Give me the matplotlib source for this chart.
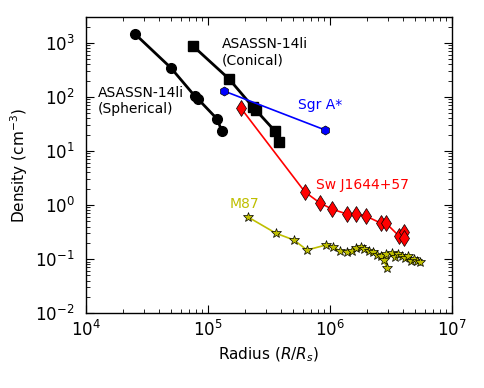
import matplotlib
matplotlib.use("Agg")
import matplotlib.pyplot as plt

plt.rcParams['axes.unicode_minus'] = False

# ASASSN-14li spherical
sph_r = [2.52e4, 4.98e4, 7.8e4, 8.28e4, 1.19e5, 1.30e5]
sph_n = [1470, 344, 104, 92, 39, 23.4]
# ASASSN-14li conical
con_r = [7.53e4, 1.49e5, 2.34e5, 2.47e5, 3.54e5, 3.82e5]
con_n = [880, 215, 65, 57, 23.4, 14.7]
# Sgr A*
sgr_r = [1.35e5, 9.1e5]
sgr_n = [129, 24.5]
# Swift J1644+57
sw_r = [1.86e5, 6.24e5, 8.28e5, 1.04e6, 1.38e6, 1.63e6, 1.97e6, 2.62e6, 2.88e6, 3.68e6, 4.05e6, 4.05e6]
sw_n = [62.5, 1.74, 1.09, 0.84, 0.68, 0.68, 0.625, 0.46, 0.46, 0.267, 0.316, 0.245]
# M87
m87_r = [2.13e5, 3.61e5, 5.07e5, 6.48e5, 9.27e5, 1.06e6, 1.21e6, 1.38e6, 1.51e6, 1.63e6,
         1.79e6, 1.90e6, 2.09e6, 2.25e6, 2.43e6, 2.60e6, 2.75e6, 2.93e6, 2.88e6, 3.22e6,
         3.41e6, 3.61e6, 3.89e6, 4.12e6, 4.36e6, 4.61e6, 4.89e6, 5.16e6, 5.47e6]
m87_n = [0.60, 0.30, 0.225, 0.147, 0.182, 0.167, 0.141, 0.135, 0.141, 0.160,
         0.167, 0.153, 0.141, 0.135, 0.119, 0.112, 0.096, 0.068, 0.125, 0.129,
         0.109, 0.124, 0.114, 0.104, 0.114, 0.092, 0.100, 0.092, 0.088]

fig = plt.figure(figsize=(4.85, 3.88), dpi=100)
ax = fig.add_axes([0.177, 0.193, 0.755, 0.763])

ax.plot(sph_r, sph_n, '-o', color='k', lw=2, ms=7)
ax.plot(con_r, con_n, '-s', color='k', lw=2, ms=7.5)
ax.plot(sgr_r, sgr_n, '-h', color='b', mfc='b', mec='k', mew=0.5, lw=1.2, ms=6.5)
ax.plot(sw_r, sw_n, '-d', color='r', mfc='r', mec='k', mew=0.5, lw=1.2, ms=8)
ax.plot(m87_r, m87_n, '-*', color='y', mfc='y', mec='k', mew=0.5, lw=1.2, ms=7.5)

ax.set_xscale('log')
ax.set_yscale('log')
ax.set_xlim(1e4, 1e7)
ax.set_ylim(1e-2, 3e3)

ax.text(1.25e4, 85, 'ASASSN-14li\n(Spherical)', fontsize=10, ha='left', va='center')
ax.text(1.30e5, 680, 'ASASSN-14li\n(Conical)', fontsize=10, ha='left', va='center')
ax.text(5.47e5, 71, 'Sgr A*', fontsize=10, color='b', ha='left', va='center')
ax.text(7.67e5, 2.35, 'Sw J1644+57', fontsize=10, color='r', ha='left', va='center')
ax.text(1.51e5, 1.04, 'M87', fontsize=10, color='y', ha='left', va='center')

ax.set_xlabel('Radius ($R/R_s$)', fontsize=11)
ax.set_ylabel('Density (cm$^{-3}$)', fontsize=11)
ax.tick_params(which='both', direction='in', top=True, right=True, labelsize=12)
ax.tick_params(which='major', length=6)
ax.tick_params(which='minor', length=3)
ax.tick_params(axis='y', pad=8)
ax.tick_params(axis='x', pad=5)
for s in ax.spines.values():
    s.set_linewidth(1)

fig.savefig('out.png', dpi=100)
